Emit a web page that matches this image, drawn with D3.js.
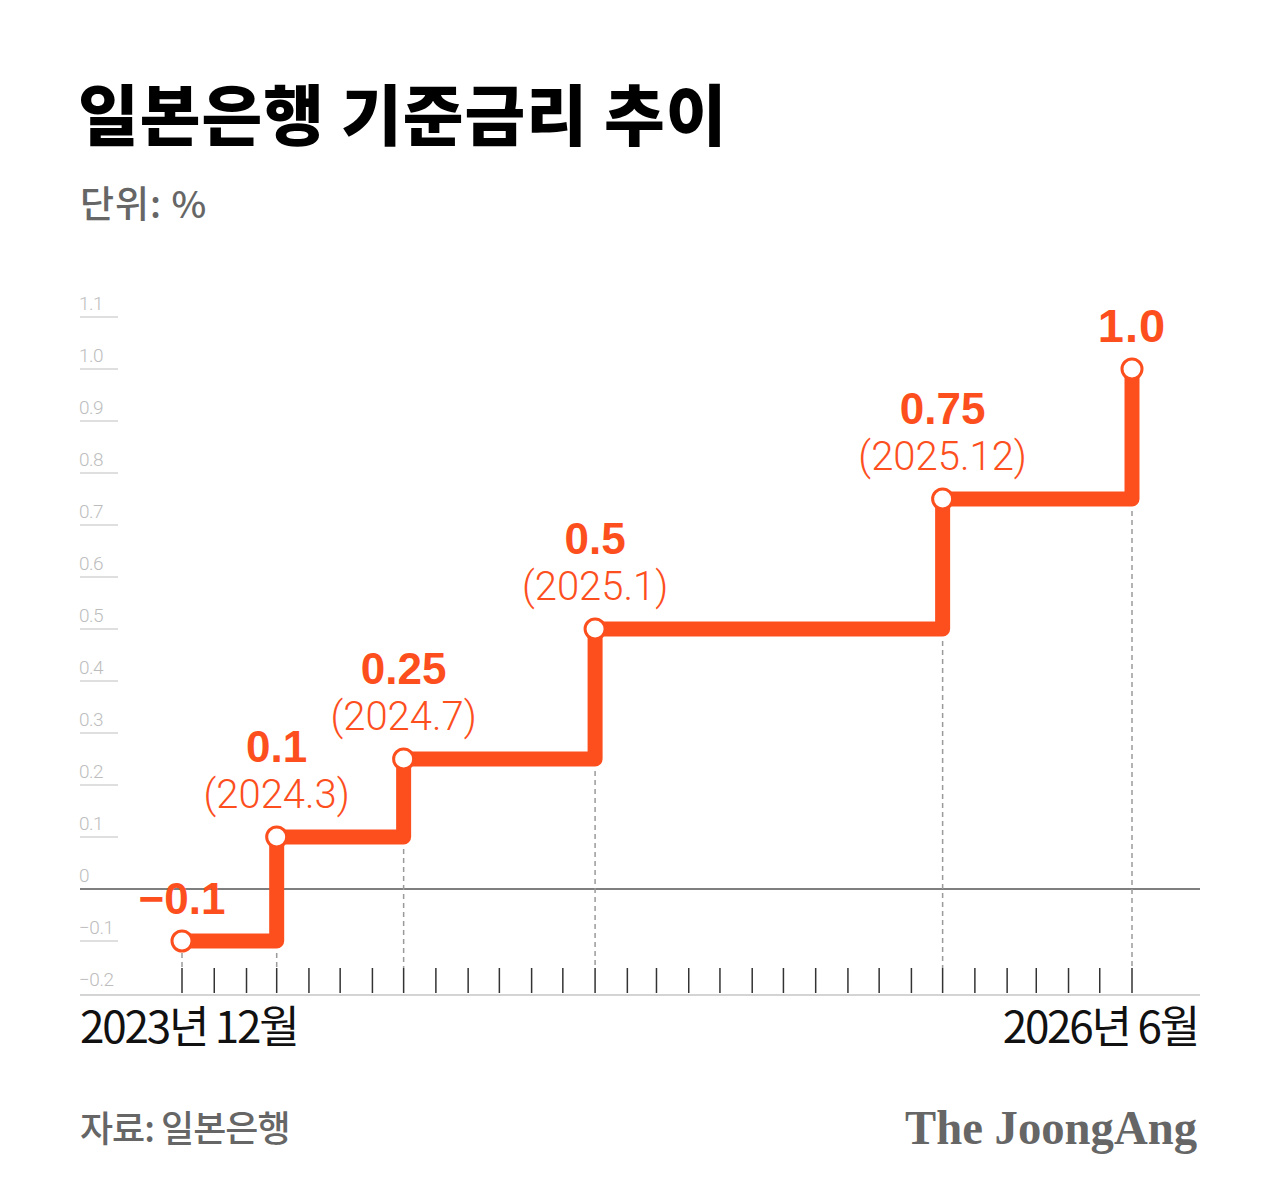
<!DOCTYPE html>
<html>
<head>
<meta charset="utf-8">
<script src="https://cdn.jsdelivr.net/npm/d3@7"></script>
<style>
  body { margin: 0; background: #fff; }
  svg { display: block; }
</style>
</head>
<body>
<div id="container"></div>
<script>
// data
var changeDates = ["2023-12", "2024-03", "2024-07", "2025-01", "2025-12", "2026-06"];
var rates = [-0.1, 0.1, 0.25, 0.5, 0.75, 1.0];
var rateLabels = ["\u22120.1", "0.1", "0.25", "0.5", "0.75", "1.0"];
var dateLabels = ["", "(2024.3)", "(2024.7)", "(2025.1)", "(2025.12)", ""];
var yTicks = [-0.2, -0.1, 0, 0.1, 0.2, 0.3, 0.4, 0.5, 0.6, 0.7, 0.8, 0.9, 1.0, 1.1];
var yTickLabels = ["\u22120.2", "\u22120.1", "0", "0.1", "0.2", "0.3", "0.4", "0.5", "0.6", "0.7", "0.8", "0.9", "1.0", "1.1"];
var startLabel = "2023년 12월";
var endLabel = "2026년 6월";

var width = 1283, height = 1203;
var orange = "#fd4f1e";
var parse = d3.timeParse("%Y-%m");
var dates = changeDates.map(parse);

var svg = d3.select("#container").append("svg")
	.attr("width", width)
	.attr("height", height);

var x = d3.scaleTime().domain([dates[0], dates[dates.length - 1]]).range([182, 1132]);
var y = d3.scaleLinear().domain([0, 1]).range([889, 369]);

// title block
svg.append("text")
	.attr("x", 78).attr("y", 140)
	.style("font-family", "'Noto Sans CJK KR'")
	.style("font-weight", 900)
	.style("font-size", "66px")
	.style("letter-spacing", "1px")
	.attr("fill", "#000")
	.text("일본은행 기준금리 추이");

svg.append("text")
	.attr("x", 80).attr("y", 218)
	.style("font-family", "'Noto Sans CJK KR'")
	.style("font-weight", 500)
	.style("font-size", "37px")
	.style("letter-spacing", "1px")
	.attr("fill", "#666")
	.text("단위: %");

// y grid stubs + labels
var yg = svg.append("g").attr("class", "y-ticks");
yg.selectAll("line").data(yTicks.filter(function(d) { return d !== 0 && d !== -0.2; }))
	.enter().append("line")
	.attr("x1", 80).attr("x2", 118)
	.attr("y1", function(d) { return y(d); })
	.attr("y2", function(d) { return y(d); })
	.attr("stroke", "#d4d4d4")
	.attr("stroke-width", 1.5);
yg.selectAll("text").data(yTicks)
	.enter().append("text")
	.attr("x", 79)
	.attr("y", function(d) { return y(d) - 7; })
	.style("font-family", "Roboto, 'Liberation Sans'")
	.style("font-weight", 300)
	.style("font-size", "19px")
	.style("letter-spacing", "-0.5px")
	.attr("fill", "#bdbdbd")
	.text(function(d, i) { return yTickLabels[i]; });

// bottom axis baseline
svg.append("line")
	.attr("x1", 80).attr("x2", 1200)
	.attr("y1", y(-0.2) + 2).attr("y2", y(-0.2) + 2)
	.attr("stroke", "#d4d4d4")
	.attr("stroke-width", 2);

// monthly ticks
var months = d3.timeMonth.range(dates[0], d3.timeMonth.offset(dates[dates.length - 1], 1));
svg.append("g").selectAll("line").data(months)
	.enter().append("line")
	.attr("x1", function(d) { return x(d); })
	.attr("x2", function(d) { return x(d); })
	.attr("y1", 968).attr("y2", 993)
	.attr("stroke", "#333")
	.attr("stroke-width", 1.5);

// zero line
svg.append("line")
	.attr("x1", 80).attr("x2", 1200)
	.attr("y1", y(0)).attr("y2", y(0))
	.attr("stroke", "#555")
	.attr("stroke-width", 1.5);

// dashed guides from each step down to the axis
svg.append("g").selectAll("line").data(dates)
	.enter().append("line")
	.attr("x1", function(d) { return x(d); })
	.attr("x2", function(d) { return x(d); })
	.attr("y1", function(d, i) { return y(i === 0 ? rates[0] : rates[i - 1]) + 12; })
	.attr("y2", 968)
	.attr("stroke", "#9a9a9a")
	.attr("stroke-width", 1.5)
	.attr("stroke-dasharray", "5,4");

// step line
var pts = dates.map(function(d, i) { return {date: d, rate: rates[i], i: i}; });
var line = d3.line()
	.x(function(d) { return x(d.date); })
	.y(function(d) { return y(d.rate); })
	.curve(d3.curveStepAfter);

svg.append("path")
	.datum(pts)
	.attr("d", line)
	.attr("fill", "none")
	.attr("stroke", orange)
	.attr("stroke-width", 15)
	.attr("stroke-linejoin", "round");

svg.append("g").selectAll("circle").data(pts)
	.enter().append("circle")
	.attr("cx", function(d) { return x(d.date); })
	.attr("cy", function(d) { return y(d.rate); })
	.attr("r", 10)
	.attr("fill", "#fff")
	.attr("stroke", orange)
	.attr("stroke-width", 3);

// labels (latest value drawn a bit larger, as in the original)
var last = pts.length - 1;
svg.append("g").selectAll("text").data(pts)
	.enter().append("text")
	.attr("x", function(d) { return x(d.date); })
	.attr("y", function(d) { return y(d.rate) - (dateLabels[d.i] ? 75 : 27); })
	.attr("text-anchor", "middle")
	.style("font-family", "'Liberation Sans', Arial")
	.style("font-weight", 700)
	.style("font-size", function(d) { return d.i === last ? "47px" : "44px"; })
	.style("letter-spacing", function(d) { return d.i === last ? "1px" : "0px"; })
	.attr("fill", orange)
	.text(function(d) { return rateLabels[d.i]; });

svg.append("g").selectAll("text").data(pts.filter(function(d) { return dateLabels[d.i]; }))
	.enter().append("text")
	.attr("x", function(d) { return x(d.date); })
	.attr("y", function(d) { return y(d.rate) - 29; })
	.attr("text-anchor", "middle")
	.style("font-family", "Roboto, 'Liberation Sans'")
	.style("font-weight", 300)
	.style("font-size", "40px")
	.attr("fill", orange)
	.text(function(d) { return dateLabels[d.i]; });

// x end labels
svg.append("text")
	.attr("x", 80).attr("y", 1043)
	.style("font-family", "'Noto Sans CJK KR'")
	.style("font-size", "44px")
	.style("letter-spacing", "-2.2px")
	.attr("fill", "#111")
	.text(startLabel);

svg.append("text")
	.attr("x", 1198).attr("y", 1043)
	.attr("text-anchor", "end")
	.style("font-family", "'Noto Sans CJK KR'")
	.style("font-size", "44px")
	.style("letter-spacing", "-2.2px")
	.attr("fill", "#111")
	.text(endLabel);

// footer
svg.append("text")
	.attr("x", 80).attr("y", 1142)
	.style("font-family", "'Noto Sans CJK KR'")
	.style("font-weight", 500)
	.style("font-size", "36px")
	.style("letter-spacing", "-1px")
	.attr("fill", "#666")
	.text("자료: 일본은행");

svg.append("text")
	.attr("x", 1197).attr("y", 1144)
	.attr("text-anchor", "end")
	.style("font-family", "'Liberation Serif', 'DejaVu Serif'")
	.style("font-weight", 700)
	.style("font-size", "48px")
	.attr("textLength", 292)
	.attr("lengthAdjust", "spacingAndGlyphs")
	.attr("fill", "#666")
	.text("The JoongAng");
</script>
</body>
</html>
